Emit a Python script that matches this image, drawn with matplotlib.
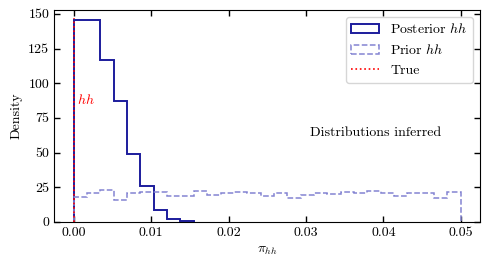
import matplotlib
matplotlib.use("Agg")
import matplotlib.pyplot as plt
from matplotlib.ticker import FormatStrFormatter
import numpy as np

plt.rcParams['font.family'] = 'serif'
plt.rcParams['font.serif'] = ['cmr10']
plt.rcParams['mathtext.fontset'] = 'cm'
plt.rcParams['axes.formatter.use_mathtext'] = True
plt.rcParams['font.size'] = 10

# 29 equal bins over the prior range [0, 0.05]
n_bins = 29
prior_range = (0.0, 0.05)

posterior_density = [145.5, 145.5, 116.5, 87.5, 49.0, 26.0, 8.5, 2.0, 0.5]
prior_density = [18.0, 20.5, 23.0, 16.0, 20.5, 21.5, 21.5, 19.0, 19.0, 22.5,
                 19.5, 20.5, 21.5, 20.5, 18.8, 21.0, 17.4, 19.3, 20.5, 20.0,
                 21.7, 21.0, 22.2, 21.0, 18.6, 21.0, 21.0, 17.4, 21.7]
true_value = 0.0
true_top = 147.0
x_ticks = [0.0, 0.01, 0.02, 0.03, 0.04, 0.05]
y_ticks = [0, 25, 50, 75, 100, 125, 150]


def main():
    edges = np.linspace(prior_range[0], prior_range[1], n_bins + 1)
    centers = 0.5 * (edges[1:] + edges[:-1])
    npost = len(posterior_density)

    fig = plt.figure(figsize=(4.89, 2.68), dpi=100)
    ax = fig.add_axes([0.111, 0.172, 0.871, 0.791])

    ax.hist(centers[:npost], bins=edges[:npost + 1], weights=posterior_density,
            histtype='step', color='#1c1c9c', lw=1.4, label=r'Posterior $hh$')
    ax.hist(centers, bins=edges, weights=prior_density, histtype='step',
            color='#8484d2', lw=1.1, ls='--', label=r'Prior $hh$')
    ax.vlines(true_value, 0, true_top, color='red', ls=':', lw=1.2, label='True')

    ax.text(true_value + 0.0004, 88, r'$hh$', color='red', fontsize=10, va='center')
    ax.text(0.755, 0.42, 'Distributions inferred', transform=ax.transAxes,
            ha='center', va='center')

    ax.set_ylim(0, 152.9)
    ax.set_xlim(-0.0025, 0.0525)
    ax.set_xticks(x_ticks)
    ax.set_yticks(y_ticks)
    ax.xaxis.set_major_formatter(FormatStrFormatter('%.2f'))
    ax.yaxis.set_major_formatter(FormatStrFormatter('%d'))
    ax.tick_params(direction='in', top=True, right=True, length=4, width=1)
    ax.set_xlabel(r'$\pi_{hh}$')
    ax.set_ylabel('Density')
    ax.legend(loc='upper right')

    plt.savefig('out.png', dpi=100)


if __name__ == '__main__':
    main()
